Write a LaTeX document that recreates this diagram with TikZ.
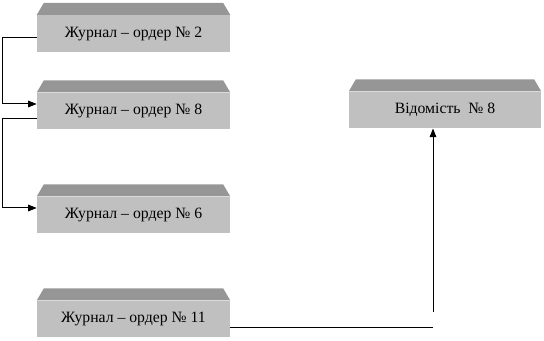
\documentclass[tikz,border=0pt]{standalone}
\usepackage{fontspec}
\setmainfont{Liberation Serif}
\usetikzlibrary{arrows.meta,calc}
\definecolor{frontgray}{RGB}{192,192,192}
\definecolor{bevelgray}{RGB}{150,150,150}
\tikzset{
  front/.style={fill=frontgray, draw=none, minimum width=193*0.75pt, minimum height=36.5*0.75pt, inner sep=0pt, font=\fontsize{11.8pt}{13pt}\selectfont, text=black},
  bevel/.style={fill=bevelgray, draw=none},
  conn/.style={draw=black, line width=0.75pt},
  arr/.style={conn, -{Triangle[length=6.5pt,width=5pt]}}
}
\newcommand{\mybevel}[1]{\fill[bevel] (#1.north west) -- ++(7,-12) -- ($(#1.north east)+(-7,-12)$) -- (#1.north east) -- cycle;}
\begin{document}
\begin{tikzpicture}[x=0.75pt,y=-0.75pt]
\useasboundingbox (0,0) rectangle (544,341);
\node[front] (b1) at (133.5,33.5) {Журнал – ордер № 2};
\node[front] (b8) at (133.5,111) {Журнал – ордер № 8};
\node[front] (b6) at (133.5,215) {Журнал – ордер № 6};
\node[front] (b11) at (133.5,319) {Журнал – ордер № 11};
\node[front, minimum width=192*0.75pt] (vid) at (445,110) {Відомість\ \ № 8};
\mybevel{b1}
\mybevel{b8}
\mybevel{b6}
\mybevel{b11}
\mybevel{vid}
\coordinate (k1) at (2,38);
\coordinate (k2) at (2,119);
\coordinate (c1) at (433,328);
\coordinate (c2) at (433,312);
\draw[arr] ($(b1.west)+(0,4.5)$) -- (k1) |- ($(b8.west)+(0,-7)$);
\draw[arr] ($(b8.west)+(0,8)$) -- (k2) |- ($(b6.west)+(0,-7)$);
\draw[conn] ($(b11.east)+(0,9)$) -- (c1);
\draw[arr] (c2) -- (c2 |- vid.south);
\end{tikzpicture}
\end{document}
